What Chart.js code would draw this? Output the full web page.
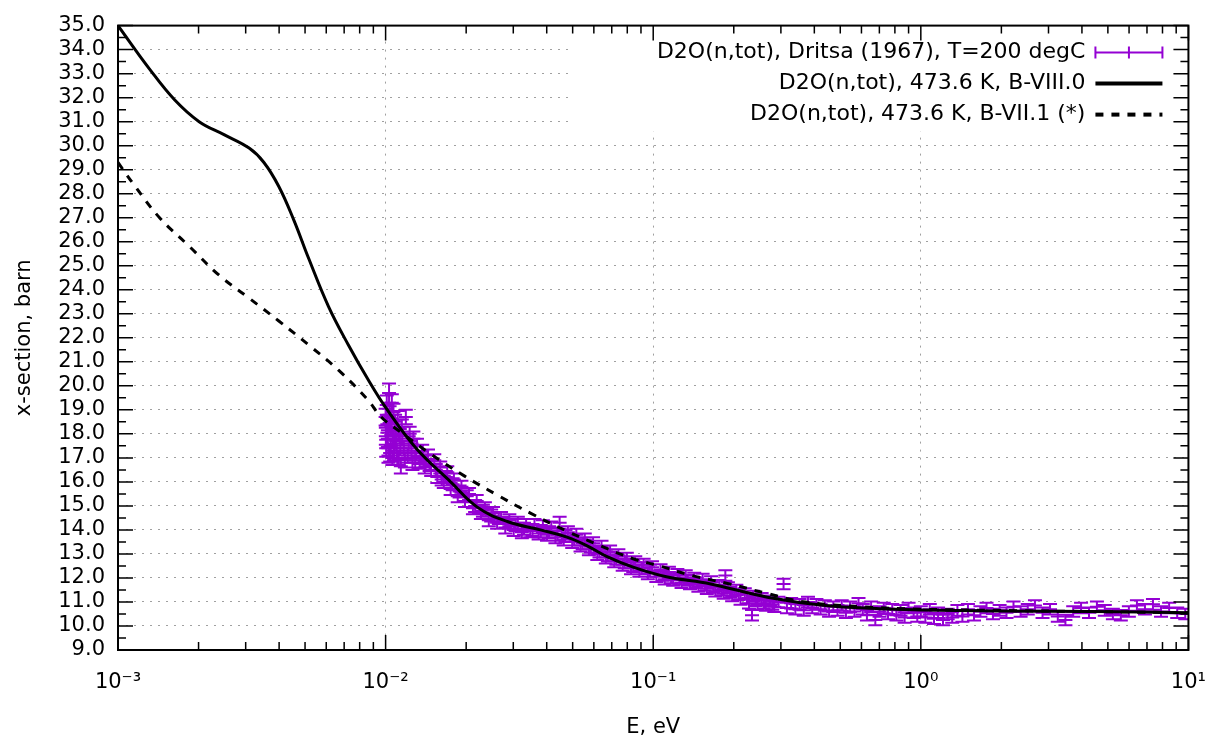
<!DOCTYPE html>
<html>
<head>
<meta charset="utf-8">
<title>D2O total cross section</title>
<script src="https://cdn.jsdelivr.net/npm/chart.js@4.4.0/dist/chart.umd.min.js"></script>
<style>
  html, body { margin: 0; padding: 0; background: #fff; }
</style>
</head>
<body>
<canvas id="xsChart" width="1226" height="746"></canvas>
<script>
// ENDF/B-VIII.0 evaluation, 473.6 K
var energyB8 = [0.001, 0.00131, 0.00163, 0.00201, 0.0025, 0.00309, 0.00351, 0.00399, 0.00454, 0.00516, 0.00612, 0.00726, 0.00861, 0.01,
    0.013, 0.0175, 0.022, 0.0285, 0.0379, 0.0476, 0.0564, 0.0669, 0.0841, 0.112, 0.164, 0.267, 0.44, 0.7, 1.0, 1.87, 4.4, 10];
var sigmaB8 = [35.0, 33.2, 31.9, 31.0, 30.45, 29.9, 29.3, 28.3, 26.9, 25.3, 23.3, 21.7, 20.25, 19.1,
    17.4, 16.0, 14.95, 14.35, 14.0, 13.7, 13.35, 12.9, 12.45, 12.05, 11.75, 11.2, 10.85, 10.72, 10.67, 10.62, 10.6, 10.55];

// ENDF/B-VII.1 evaluation, 473.6 K
var energyB7 = [0.001, 0.00116, 0.00143, 0.00185, 0.00239, 0.00309, 0.00399, 0.00516, 0.00667, 0.00861, 0.00962, 0.01145,
    0.01479, 0.01967, 0.02615, 0.03475, 0.04755, 0.06319, 0.0841, 0.1055, 0.1396, 0.1931, 0.2672, 0.3695, 0.6067, 1.0, 1.87, 4.4, 10];
var sigmaB7 = [29.3, 28.3, 27.0, 25.8, 24.6, 23.65, 22.7, 21.7, 20.65, 19.4, 18.7, 18.05,
    17.15, 16.25, 15.45, 14.7, 13.95, 13.35, 12.8, 12.5, 12.1, 11.75, 11.35, 11.0, 10.8, 10.7, 10.65, 10.6, 10.55];

// Dritsa (1967), T=200 degC
var energyExp = [0.0100, 0.01005, 0.0101, 0.0102, 0.0103, 0.0104, 0.0105, 0.0106, 0.0107, 0.0108, 0.0109, 0.0110, 0.0111, 0.0112, 0.0113,
    0.0114, 0.0115, 0.0117, 0.0119, 0.0121, 0.0123, 0.0125, 0.0127, 0.0129, 0.0131,
    0.0134, 0.0137, 0.0140, 0.0144, 0.0148, 0.0152, 0.0156, 0.0160, 0.0165, 0.0170, 0.0175, 0.0180, 0.0186, 0.0192, 0.0198,
    0.0205, 0.0212, 0.0219, 0.0227, 0.0235, 0.0243, 0.0252, 0.0261, 0.0270, 0.0280, 0.0290, 0.0301, 0.0312, 0.0323, 0.0335,
    0.0347, 0.0360, 0.0373, 0.0387, 0.0401, 0.0416, 0.0431, 0.0447, 0.0463, 0.0480, 0.0498, 0.0516, 0.0535, 0.0555, 0.0575,
    0.0596, 0.0618, 0.0641, 0.0665, 0.0690, 0.0715, 0.0741, 0.0769, 0.0797, 0.0826, 0.0857, 0.0888, 0.0921, 0.0955, 0.0990,
    0.1027, 0.1065, 0.1104, 0.1145, 0.1187, 0.1231, 0.1276, 0.1323, 0.1372, 0.1423, 0.1475, 0.1530, 0.1586, 0.1645, 0.1706,
    0.1769, 0.1834, 0.1860, 0.1902, 0.1972, 0.2045, 0.2120, 0.2199, 0.2280, 0.2340, 0.2364, 0.2452, 0.2542, 0.2636, 0.2733,
    0.2834, 0.2939, 0.3070, 0.3160, 0.3277, 0.3398, 0.3523, 0.3653, 0.3788, 0.3928, 0.4073, 0.4223, 0.4379, 0.4541, 0.4709,
    0.4883, 0.5063, 0.525, 0.544, 0.565, 0.585, 0.607, 0.629, 0.652, 0.676, 0.701, 0.727, 0.754, 0.782, 0.81,
    0.84, 0.87, 0.90, 0.94, 0.97, 1.00, 1.04, 1.08, 1.12, 1.16, 1.21, 1.26, 1.31, 1.37, 1.43,
    1.50, 1.58, 1.67, 1.76, 1.86, 1.97, 2.09, 2.22, 2.36, 2.51, 2.67, 2.85, 3.04, 3.25, 3.47,
    3.71, 3.97, 4.25, 4.55, 4.87, 5.22, 5.59, 5.99, 6.42, 6.88, 7.37, 7.90, 8.47, 9.08, 9.73,
    0.01002, 0.01015, 0.01025, 0.01035, 0.01045, 0.01055, 0.01065, 0.01075, 0.01085, 0.01095, 0.01105, 0.01118, 0.01135, 0.01155, 0.0118,
    0.0122, 0.0126, 0.0130, 0.0135, 0.0142, 0.0146, 0.0154, 0.0162, 0.0168, 0.0178, 0.0189, 0.0201, 0.0216, 0.0231, 0.0248,
    0.0265, 0.0285, 0.0306, 0.0329, 0.0354, 0.0380, 0.0408, 0.0439, 0.0470, 0.0507, 0.0545, 0.0585, 0.0630, 0.0677, 0.0728,
    0.0783, 0.0842, 0.0905, 0.0972, 0.1085, 0.1166, 0.1253, 0.1347, 0.1449, 0.1558, 0.1675, 0.1800, 0.1937, 0.2082, 0.2240,
    0.2410, 0.2590, 0.2785];
var sigmaExp = [18.7, 17.4, 19.2, 17.8, 19.7, 17.2, 18.3, 17.0, 18.9, 17.6, 18.1, 17.3, 18.6, 17.0, 17.9,
    16.65, 18.3, 17.4, 18.7, 17.1, 18.0, 17.3, 17.8, 16.9, 17.5,
    16.8, 17.3, 16.6, 17.1, 16.5, 16.9, 16.2, 16.6, 16.0, 16.4, 15.7, 16.1, 15.4, 15.8, 15.2,
    15.5, 14.9, 15.2, 14.7, 14.9, 14.4, 14.7, 14.3, 14.5, 14.1, 14.4, 14.0, 14.3, 13.9, 14.2,
    13.95, 14.2, 13.85, 14.15, 13.8, 14.1, 13.7, 14.3, 13.6, 13.9, 13.5, 13.8, 13.35, 13.6, 13.2,
    13.45, 13.0, 13.3, 12.85, 13.1, 12.7, 12.95, 12.55, 12.8, 12.4, 12.65, 12.3, 12.55, 12.2, 12.45,
    12.05, 12.35, 11.95, 12.25, 11.9, 12.15, 11.8, 12.1, 11.75, 12.0, 11.65, 11.95, 11.55, 11.85, 11.45,
    11.7, 11.35, 12.1, 11.6, 11.25, 11.5, 11.1, 11.35, 10.95, 10.45, 11.25, 10.9, 11.15, 10.85, 11.05,
    10.8, 11.0, 11.75, 10.75, 10.95, 10.7, 10.9, 10.65, 11.0, 10.75, 10.9, 10.7, 10.85, 10.6, 10.8,
    10.65, 10.85, 10.55, 10.8, 10.6, 10.95, 10.7, 10.45, 10.8, 10.25, 10.6, 10.75, 10.5, 10.7, 10.45,
    10.65, 10.35, 10.75, 10.55, 10.4, 10.6, 10.35, 10.7, 10.3, 10.55, 10.25, 10.5, 10.35, 10.65, 10.4,
    10.7, 10.45, 10.6, 10.75, 10.5, 10.65, 10.55, 10.8, 10.6, 10.7, 10.85, 10.55, 10.7, 10.4, 10.25,
    10.6, 10.75, 10.55, 10.8, 10.65, 10.5, 10.45, 10.6, 10.85, 10.7, 10.9, 10.6, 10.75, 10.55, 10.5,
    17.9, 18.4, 17.1, 18.8, 17.5, 19.3, 17.8, 17.2, 18.5, 17.7, 17.0, 18.0, 17.4, 17.8, 16.9,
    17.6, 16.8, 17.2, 17.0, 16.9, 16.7, 16.5, 16.1, 16.2, 15.9, 15.6, 15.4, 15.0, 14.8, 14.6,
    14.5, 14.3, 14.2, 14.05, 14.0, 13.95, 13.9, 13.8, 13.75, 13.6, 13.45, 13.3, 13.1, 12.95, 12.8,
    12.65, 12.5, 12.4, 12.3, 12.1, 12.0, 11.95, 11.9, 11.8, 11.7, 11.6, 11.5, 11.4, 11.3, 11.15,
    11.05, 10.95, 10.9];
var errExp = [0.35, 0.35, 0.4, 0.35, 0.4, 0.35, 0.35, 0.3, 0.35, 0.3, 0.3, 0.3, 0.35, 0.3, 0.3,
    0.3, 0.3, 0.3, 0.3, 0.3, 0.3, 0.3, 0.3, 0.3, 0.3,
    0.25, 0.25, 0.25, 0.25, 0.25, 0.25, 0.25, 0.25, 0.25, 0.25, 0.25, 0.25, 0.25, 0.25, 0.25,
    0.25, 0.25, 0.25, 0.25, 0.25, 0.25, 0.25, 0.25, 0.25, 0.25, 0.25, 0.25, 0.25, 0.25, 0.25,
    0.25, 0.25, 0.25, 0.25, 0.25, 0.25, 0.25, 0.25, 0.25, 0.25, 0.25, 0.25, 0.25, 0.25, 0.25,
    0.25, 0.25, 0.25, 0.25, 0.25, 0.25, 0.25, 0.25, 0.25, 0.25, 0.25, 0.25, 0.25, 0.25, 0.25,
    0.22, 0.22, 0.22, 0.22, 0.22, 0.22, 0.22, 0.22, 0.22, 0.22, 0.22, 0.22, 0.22, 0.22, 0.22,
    0.22, 0.22, 0.22, 0.22, 0.22, 0.22, 0.22, 0.22, 0.22, 0.22, 0.22, 0.22, 0.22, 0.22, 0.22,
    0.22, 0.22, 0.22, 0.22, 0.22, 0.22, 0.22, 0.22, 0.22, 0.22, 0.22, 0.22, 0.22, 0.22, 0.22,
    0.22, 0.22, 0.22, 0.22, 0.22, 0.22, 0.22, 0.22, 0.22, 0.22, 0.22, 0.22, 0.22, 0.22, 0.22,
    0.22, 0.22, 0.22, 0.22, 0.22, 0.22, 0.22, 0.22, 0.22, 0.22, 0.22, 0.22, 0.22, 0.22, 0.22,
    0.22, 0.22, 0.22, 0.22, 0.22, 0.22, 0.22, 0.22, 0.22, 0.22, 0.22, 0.22, 0.22, 0.22, 0.22,
    0.22, 0.22, 0.22, 0.22, 0.22, 0.22, 0.22, 0.22, 0.22, 0.22, 0.22, 0.22, 0.22, 0.22, 0.22,
    0.35, 0.35, 0.3, 0.35, 0.3, 0.35, 0.3, 0.3, 0.3, 0.3, 0.3, 0.3, 0.3, 0.3, 0.3,
    0.3, 0.3, 0.3, 0.25, 0.25, 0.25, 0.25, 0.25, 0.25, 0.25, 0.25, 0.25, 0.25, 0.25, 0.25,
    0.25, 0.25, 0.25, 0.25, 0.25, 0.25, 0.25, 0.25, 0.25, 0.25, 0.25, 0.25, 0.25, 0.25, 0.25,
    0.25, 0.25, 0.25, 0.25, 0.22, 0.22, 0.22, 0.22, 0.22, 0.22, 0.22, 0.22, 0.22, 0.22, 0.22,
    0.22, 0.22, 0.22];

var xTickValues = [0.001, 0.01, 0.1, 1, 10];
var xTickLabels = ['10\u207B\u00B3', '10\u207B\u00B2', '10\u207B\u00B9', '10\u2070', '10\u00B9'];
var legendLabels = ['D2O(n,tot), Dritsa (1967), T=200 degC', 'D2O(n,tot), 473.6 K, B-VIII.0', 'D2O(n,tot), 473.6 K, B-VII.1 (*)'];

var FONT = '"DejaVu Sans", Verdana, sans-serif';
var PURPLE = '#9400d3';
var CAP = 7;

function toPoints(xs, ys) {
    return xs.map(function (x, i) { return { x: x, y: ys[i] }; });
}

// gnuplot-ish frame, inward ticks, key box and error bars
var gnuplotLook = {
    id: 'gnuplotLook',
    beforeDatasetsDraw: function (chart) {
        var ctx = chart.ctx, a = chart.chartArea;
        ctx.save();
        ctx.fillStyle = '#fff';
        ctx.fillRect(a.right - 620, a.top, 620, 106);
        ctx.font = '22px ' + FONT;
        ctx.fillStyle = '#000';
        ctx.textAlign = 'right';
        ctx.textBaseline = 'middle';
        var x0 = a.right - 93, x1 = a.right - 26;
        // key order: experiment, B-VIII.0, B-VII.1
        var order = [2, 0, 1];
        order.forEach(function (di, row) {
            var ds = chart.data.datasets[di];
            var y = a.top + 27 + row * 31;
            ctx.fillText(legendLabels[row], a.right - 103, y);
            ctx.strokeStyle = ds.borderColor;
            ctx.setLineDash(ds.borderDash || []);
            if (di === 2) {
                ctx.lineWidth = 2;
                ctx.beginPath();
                ctx.moveTo(x0, y); ctx.lineTo(x1, y);
                [x0, (x0 + x1) / 2, x1].forEach(function (xt) {
                    ctx.moveTo(xt, y - 6); ctx.lineTo(xt, y + 6);
                });
                ctx.stroke();
            } else {
                ctx.lineWidth = 4;
                ctx.beginPath();
                ctx.moveTo(x0, y); ctx.lineTo(x1, y);
                ctx.stroke();
            }
        });
        ctx.restore();
    },
    afterDatasetDraw: function (chart, args) {
        if (args.index !== 2) return;
        var ctx = chart.ctx, a = chart.chartArea, ys = chart.scales.y;
        ctx.save();
        ctx.beginPath();
        ctx.rect(a.left, a.top, a.right - a.left, a.bottom - a.top);
        ctx.clip();
        ctx.strokeStyle = PURPLE;
        ctx.lineWidth = 2;
        ctx.beginPath();
        args.meta.data.forEach(function (pt, i) {
            var top = ys.getPixelForValue(sigmaExp[i] + errExp[i]);
            var bot = ys.getPixelForValue(sigmaExp[i] - errExp[i]);
            ctx.moveTo(pt.x, top); ctx.lineTo(pt.x, bot);
            ctx.moveTo(pt.x - CAP, top); ctx.lineTo(pt.x + CAP, top);
            ctx.moveTo(pt.x - CAP, bot); ctx.lineTo(pt.x + CAP, bot);
        });
        ctx.stroke();
        ctx.restore();
    },
    afterDraw: function (chart) {
        var ctx = chart.ctx, a = chart.chartArea;
        var xs = chart.scales.x, ys = chart.scales.y;
        ctx.save();
        ctx.strokeStyle = '#000';
        ctx.lineWidth = 1.5;
        ctx.beginPath();
        ys.ticks.forEach(function (t) {
            var y = ys.getPixelForValue(t.value);
            ctx.moveTo(a.left, y); ctx.lineTo(a.left + 15, y);
            ctx.moveTo(a.right, y); ctx.lineTo(a.right - 15, y);
            if (t.value < ys.max) {
                var ym = ys.getPixelForValue(t.value + 0.5);
                ctx.moveTo(a.left, ym); ctx.lineTo(a.left + 8, ym);
                ctx.moveTo(a.right, ym); ctx.lineTo(a.right - 8, ym);
            }
        });
        xTickValues.forEach(function (v, i) {
            var x = xs.getPixelForValue(v);
            ctx.moveTo(x, a.bottom); ctx.lineTo(x, a.bottom - 15);
            ctx.moveTo(x, a.top); ctx.lineTo(x, a.top + 15);
            if (i < xTickValues.length - 1) {
                for (var k = 2; k <= 9; k++) {
                    var xm = xs.getPixelForValue(v * k);
                    ctx.moveTo(xm, a.bottom); ctx.lineTo(xm, a.bottom - 8);
                    ctx.moveTo(xm, a.top); ctx.lineTo(xm, a.top + 8);
                }
            }
        });
        ctx.stroke();
        ctx.lineWidth = 2;
        ctx.strokeRect(a.left, a.top, a.right - a.left, a.bottom - a.top);
        ctx.restore();
    }
};

var ctx = document.getElementById('xsChart').getContext('2d');
var xsChart = new Chart(ctx, {
    type: 'line',
    data: {
        datasets: [{
            label: legendLabels[1],
            data: toPoints(energyB8, sigmaB8),
            borderColor: '#000',
            borderWidth: 3,
            pointRadius: 0,
            tension: 0.4,
            fill: false
        }, {
            label: legendLabels[2],
            data: toPoints(energyB7, sigmaB7),
            borderColor: '#000',
            borderWidth: 3,
            borderDash: [8, 8],
            pointRadius: 0,
            tension: 0.4,
            fill: false
        }, {
            label: legendLabels[0],
            data: toPoints(energyExp, sigmaExp),
            showLine: false,
            borderColor: PURPLE,
            backgroundColor: PURPLE,
            pointStyle: 'line',
            pointRadius: CAP,
            pointBorderWidth: 2
        }]
    },
    options: {
        responsive: false,
        animation: false,
        layout: { padding: { top: 15, right: 30, left: 0, bottom: 0 } },
        scales: {
            x: {
                type: 'logarithmic',
                min: 0.001,
                max: 10,
                afterBuildTicks: function (scale) {
                    scale.ticks = xTickValues.map(function (v) { return { value: v }; });
                },
                afterFit: function (scale) { scale.height = 96; },
                ticks: {
                    autoSkip: false,
                    maxRotation: 0,
                    padding: 20,
                    color: '#000',
                    font: { family: FONT, size: 21 },
                    callback: function (value) {
                        var i = xTickValues.indexOf(value);
                        return i >= 0 ? xTickLabels[i] : '';
                    }
                },
                grid: { color: '#a0a0a0', lineWidth: 1, drawTicks: false },
                border: { display: false, dash: [2, 6] },
                title: {
                    display: true,
                    text: 'E, eV',
                    color: '#000',
                    font: { family: FONT, size: 21 },
                    padding: { top: 0, bottom: 6 }
                }
            },
            y: {
                min: 9,
                max: 35,
                afterFit: function (scale) { scale.width = 118; },
                ticks: {
                    stepSize: 1,
                    autoSkip: false,
                    padding: 13,
                    color: '#000',
                    font: { family: FONT, size: 21 },
                    callback: function (value) { return value.toFixed(1); }
                },
                grid: { color: '#a0a0a0', lineWidth: 1, drawTicks: false },
                border: { display: false, dash: [2, 6] },
                title: {
                    display: true,
                    text: 'x-section, barn',
                    color: '#000',
                    font: { family: FONT, size: 21 },
                    padding: { top: 12, bottom: 0 }
                }
            }
        },
        plugins: {
            legend: { display: false },
            tooltip: { enabled: false }
        }
    },
    plugins: [gnuplotLook]
});
</script>
</body>
</html>
